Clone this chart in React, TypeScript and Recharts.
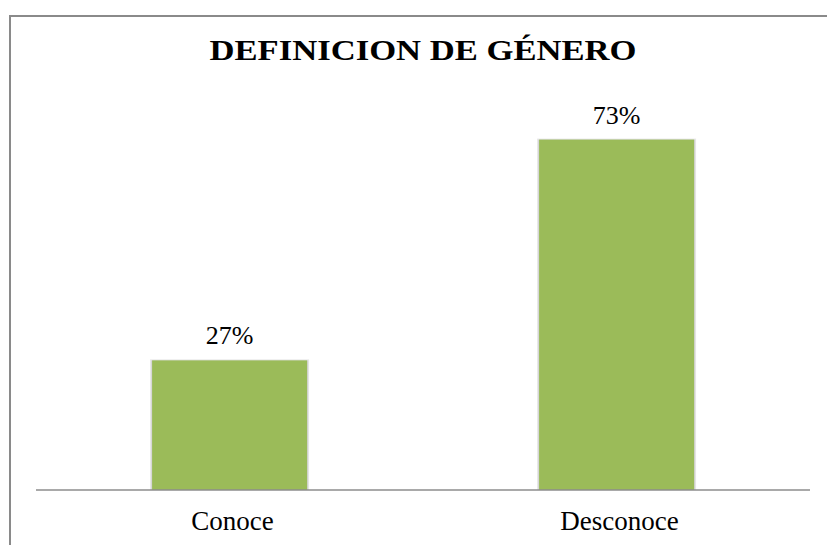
import React from "react";
import { BarChart, Bar, XAxis, YAxis, LabelList } from "recharts";

const categories = ["Conoce", "Desconoce"];
const percentages = [27, 73];

const data = categories.map((name, i) => ({ name, value: percentages[i] }));

const serif = "Liberation Serif, DejaVu Serif, Times New Roman, serif";

const BarLabel = (props: any) => {
  const { x, y, width, value } = props;
  return (
    <text x={x + width / 2} y={y - 16} textAnchor="middle" style={{ fontFamily: serif }} fontSize={26} fill="#000">
      {`${value}%`}
    </text>
  );
};

const CategoryTick = (props: any) => {
  const { x, y, payload } = props;
  return (
    <text x={x + 3} y={y + 32} textAnchor="middle" style={{ fontFamily: serif }} fontSize={27} fill="#000">
      {payload.value}
    </text>
  );
};

const ShadowBar = (props: any) => {
  const { x, y, width, height, fill } = props;
  return (
    <g>
      <rect x={x - 2} y={y - 1} width={width + 4} height={height + 1} fill="#e6e6e6" />
      <rect x={x - 1} y={y} width={width + 2} height={height} fill="#d4d4d4" />
      <rect x={x} y={y} width={width} height={height} fill={fill} />
    </g>
  );
};

export default function App() {
  // fixed so the frame can run past the window edge without scrollbars
  return (
    <div
      style={{
        position: "fixed",
        left: 9,
        top: 15,
        width: 818,
        height: 530,
        boxSizing: "border-box",
        borderLeft: "2px solid #8a8a8a",
        borderTop: "2px solid #8a8a8a",
        overflow: "hidden",
        background: "#fff",
        fontFamily: serif,
      }}
    >
      <BarChart
        width={816}
        height={528}
        data={data}
        margin={{ top: 89, right: 17, left: 25, bottom: 15 }}
        barCategoryGap="30%"
      >
        <text
          x={412}
          y={43}
          textAnchor="middle"
          style={{ fontFamily: serif }}
          fontWeight="bold"
          fontSize={30}
          textLength={427}
          lengthAdjust="spacingAndGlyphs"
          fill="#000"
        >
          DEFINICION DE GÉNERO
        </text>
        <XAxis
          dataKey="name"
          axisLine={{ stroke: "#8c8c8c", strokeWidth: 1.5 }}
          tickLine={false}
          tick={<CategoryTick />}
          height={40}
          interval={0}
        />
        <YAxis hide domain={[0, 80]} />
        <Bar dataKey="value" fill="#9BBB59" shape={<ShadowBar />} isAnimationActive={false}>
          <LabelList dataKey="value" content={<BarLabel />} />
        </Bar>
      </BarChart>
    </div>
  );
}
